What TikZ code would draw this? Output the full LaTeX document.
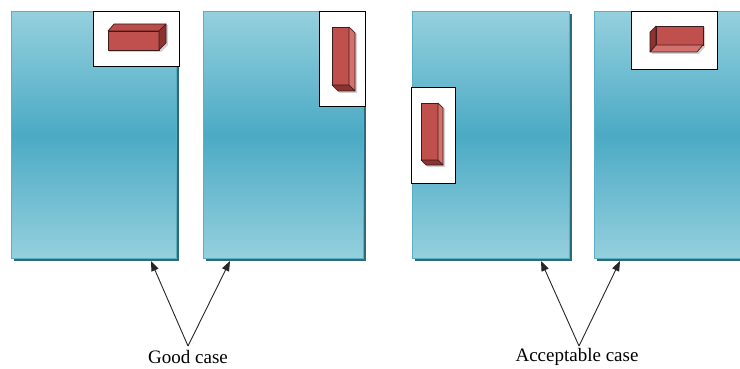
\documentclass[tikz,border=0pt]{standalone}
\usepackage{fontspec}
\setmainfont{Liberation Serif}
\usetikzlibrary{arrows.meta,shadows}
\definecolor{pantop}{HTML}{95D0DE}
\definecolor{panmid}{HTML}{4BAAC4}
\definecolor{panline}{HTML}{5AAFC4}
\definecolor{panshadow}{HTML}{2F6A7A}
\definecolor{brfront}{HTML}{C0504D}
\definecolor{brtop}{HTML}{BA4D4A}
\definecolor{brlight}{HTML}{D4706D}
\definecolor{brdark}{HTML}{8A3331}
\definecolor{brline}{HTML}{3A1C1C}
\tikzset{
  panel/.style={draw=panline, line width=0.8pt, anchor=north west, minimum width=165pt, minimum height=247pt,
    top color=pantop, bottom color=pantop, middle color=panmid, inner sep=0pt,
    general shadow={fill=panshadow, shadow xshift=3pt, shadow yshift=-3pt}},
  wbox/.style={draw=black, fill=white, line width=1.1pt, anchor=north west, inner sep=0pt},
  bf/.style={fill=brfront, draw=brline, line width=0.7pt, line join=round},
  bt/.style={fill=brtop, draw=brline, line width=0.7pt, line join=round},
  bl/.style={fill=brlight, draw=brline, line width=0.7pt, line join=round},
  bd/.style={fill=brdark, draw=brline, line width=0.7pt, line join=round},
  bsh/.style={fill=black, fill opacity=0.18, draw=none},
  arr/.style={-{Triangle[length=10pt,width=7.5pt]}, line width=0.9pt, draw=black!85},
  lbl/.style={font=\fontsize{19}{22}\selectfont, inner sep=0pt}
}
\begin{document}
\begin{tikzpicture}[x=1pt,y=-1pt]
\clip (0,0) rectangle (740,369);
\fill[white] (0,0) rectangle (740,369);
% panels
\node[panel] (p1) at (11,11) {};
\node[panel, minimum width=160pt] (p2) at (203,11) {};
\node[panel, minimum width=157pt] (p3) at (412,11) {};
\node[panel] (p4) at (594,11) {};
% white boxes
\node[wbox, minimum width=86pt, minimum height=55pt] (b1) at (93,11) {};
\node[wbox, minimum width=46pt, minimum height=95pt] (b2) at (319,11) {};
\node[wbox, minimum width=44pt, minimum height=96pt] (b3) at (411,87) {};
\node[wbox, minimum width=86pt, minimum height=58pt] (b4) at (631,11) {};
% brick 1
\fill[bsh] (109,33) -- (116,25) -- (168,25) -- (168,45) -- (161,52) -- (109,52) -- cycle;
\draw[bf] (108,31) rectangle (159,50);
\draw[bt] (108,31) -- (114,24) -- (166,24) -- (159,31) -- cycle;
\draw[bd] (159,31) -- (166,24) -- (166,43) -- (159,50) -- cycle;
% brick 2
\fill[bsh] (333,28) -- (351,28) -- (357,34) -- (357,93) -- (340,93) -- (333,87) -- cycle;
\draw[bf] (332,27) rectangle (349,85);
\draw[bl] (349,27) -- (355,33) -- (355,91) -- (349,85) -- cycle;
\draw[bd] (332,85) -- (349,85) -- (355,91) -- (338,91) -- cycle;
% brick 3
\fill[bsh] (422,104) -- (440,104) -- (445,109) -- (445,167) -- (428,167) -- (422,162) -- cycle;
\draw[bf] (421,103) rectangle (438,160);
\draw[bl] (438,103) -- (443,108) -- (443,165) -- (438,160) -- cycle;
\draw[bd] (421,160) -- (438,160) -- (443,165) -- (426,165) -- cycle;
% brick 4
\fill[bsh] (652,33) -- (658,27) -- (705,27) -- (705,47) -- (699,54) -- (652,54) -- cycle;
\draw[bf] (656,26) rectangle (703,45);
\draw[bd] (656,26) -- (650,32) -- (650,52) -- (656,45) -- cycle;
\draw[bl] (656,45) -- (703,45) -- (697,52) -- (650,52) -- cycle;
% labels
\node[lbl] (good) at (188,357) {Good case};
\node[lbl] (acc) at (577,357) {Acceptable case};
\coordinate (ga) at (188,346);
\coordinate (aa) at (579,346);
\coordinate (t1) at (151,261);
\coordinate (t2) at (230,261);
\coordinate (t3) at (541,261);
\coordinate (t4) at (620,261);
\draw[arr] (ga) -- (t1);
\draw[arr] (ga) -- (t2);
\draw[arr] (aa) -- (t3);
\draw[arr] (aa) -- (t4);
\end{tikzpicture}
\end{document}
